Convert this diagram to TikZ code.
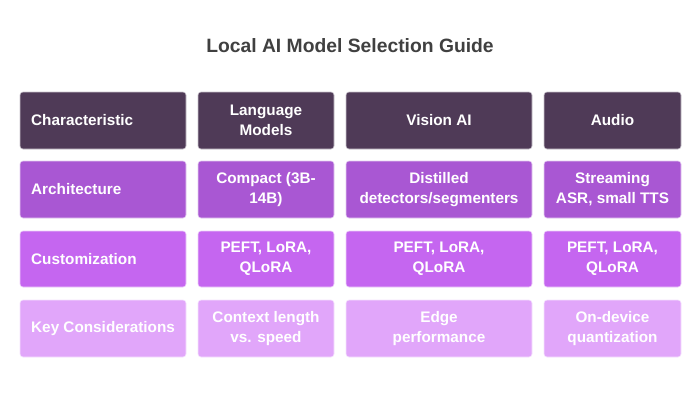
\documentclass[tikz,border=0pt]{standalone}
\usepackage{fontspec}
\setmainfont{Liberation Sans}
\definecolor{hdr}{HTML}{4F3A57}
\definecolor{rowa}{HTML}{A957D3}
\definecolor{rowb}{HTML}{C566F0}
\definecolor{rowc}{HTML}{E1A6FA}
\definecolor{ttl}{HTML}{404040}
\tikzset{
  cell/.style={rounded corners=3pt, draw=white!70!#1, line width=0.6pt, fill=#1},
  celltext/.style={text=white, font=\bfseries\fontsize{15.3}{20}\selectfont, inner sep=0pt},
}
\newcommand{\cellbox}[7]{% name, x1, y1, x2, y2, color, text
  \path[cell=#6] (#2,#3) rectangle (#4,#5);
  \node[celltext, align=center] (#1) at ({(#2+#4)/2},{(#3+#5)/2}) {#7};
}
\newcommand{\labbox}[7]{%
  \path[cell=#6] (#2,#3) rectangle (#4,#5);
  \node[celltext, anchor=west] (#1) at (#2+11,{(#3+#5)/2}) {#7};
}
\begin{document}
\begin{tikzpicture}[x=1pt,y=-1pt]
\useasboundingbox[fill=white] (0,0) rectangle (700,400);
\node[font=\bfseries\fontsize{19.3}{22}\selectfont, text=ttl] (title) at (350,46) {Local AI Model Selection Guide};
% header row
\labbox{h0}{20}{92}{186}{149}{hdr}{Characteristic}
\cellbox{h1}{198}{92}{334}{149}{hdr}{Language\\Models}
\cellbox{h2}{346}{92}{532}{149}{hdr}{Vision AI}
\cellbox{h3}{544}{92}{681}{149}{hdr}{Audio}
% architecture
\labbox{a0}{20}{161}{186}{218}{rowa}{Architecture}
\cellbox{a1}{198}{161}{334}{218}{rowa}{Compact (3B-\\14B)}
\cellbox{a2}{346}{161}{532}{218}{rowa}{Distilled\\detectors/segmenters}
\cellbox{a3}{544}{161}{681}{218}{rowa}{Streaming\\ASR, small TTS}
% customization
\labbox{c0}{20}{231}{186}{287}{rowb}{Customization}
\cellbox{c1}{198}{231}{334}{287}{rowb}{PEFT, LoRA,\\QLoRA}
\cellbox{c2}{346}{231}{532}{287}{rowb}{PEFT, LoRA,\\QLoRA}
\cellbox{c3}{544}{231}{681}{287}{rowb}{PEFT, LoRA,\\QLoRA}
% key considerations
\labbox{k0}{20}{300}{186}{357}{rowc}{Key Considerations}
\cellbox{k1}{198}{300}{334}{357}{rowc}{Context length\\vs. speed}
\cellbox{k2}{346}{300}{532}{357}{rowc}{Edge\\performance}
\cellbox{k3}{544}{300}{681}{357}{rowc}{On-device\\quantization}
\end{tikzpicture}
\end{document}
